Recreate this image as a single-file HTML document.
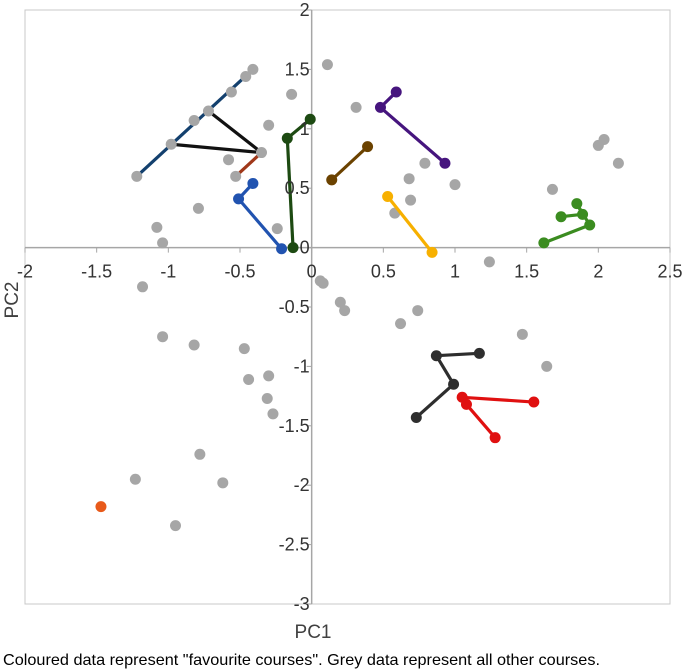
<!DOCTYPE html>
<html><head><meta charset="utf-8"><style>
body{margin:0;background:#fff;font-family:"Liberation Sans",sans-serif}
svg{display:block}
</style></head><body>
<svg id="chart" width="684" height="671" font-family="Liberation Sans, sans-serif">
<rect x="25" y="10" width="645" height="594" fill="none" stroke="#c8c8c8" stroke-width="1"/>
<g id="axes"></g>
<g id="lines"></g>
<g id="greys"></g>
<g id="pts"></g>
<g id="labels"></g>
<text x="313" y="638" font-size="19" text-anchor="middle" fill="#404040">PC1</text>
<text transform="translate(18,300) rotate(-90)" font-size="19" text-anchor="middle" fill="#404040">PC2</text>
<text x="3" y="665" font-size="15.8" fill="#000" textLength="597" lengthAdjust="spacingAndGlyphs">Coloured data represent "favourite courses". Grey data represent all other courses.</text>
</svg>
<script>
const xTicks=[-2,-1.5,-1,-0.5,0,0.5,1,1.5,2,2.5];
const yTicks=[2,1.5,1,0.5,0,-0.5,-1,-1.5,-2,-2.5,-3];
const greyX=[-0.41,-0.46,-0.56,-0.72,-0.82,-0.98,-1.22,-0.35,-0.53,-0.58,-0.30,-0.14,-0.79,-1.08,-1.04,-0.24,0.11,0.31,0.79,0.68,0.69,0.58,1.00,1.68,2.00,2.04,2.14,1.24,-1.18,-1.04,-0.82,-0.47,-0.44,-0.30,-0.31,-0.27,-0.78,-1.23,-0.62,-0.95,0.06,0.08,0.20,0.23,0.74,0.62,1.47,1.64];
const greyY=[1.50,1.44,1.31,1.15,1.07,0.87,0.60,0.80,0.60,0.74,1.03,1.29,0.33,0.17,0.04,0.16,1.54,1.18,0.71,0.58,0.40,0.29,0.53,0.49,0.86,0.91,0.71,-0.12,-0.33,-0.75,-0.82,-0.85,-1.11,-1.08,-1.27,-1.40,-1.74,-1.95,-1.98,-2.34,-0.28,-0.30,-0.46,-0.53,-0.53,-0.64,-0.73,-1.00];
const navyX=[-1.22,-0.41], navyY=[0.60,1.50];
const black1X=[-0.72,-0.35,-0.98], black1Y=[1.15,0.80,0.87];
const rustX=[-0.53,-0.35], rustY=[0.60,0.80];
const blueX=[-0.41,-0.51,-0.21], blueY=[0.54,0.41,-0.01];
const dgreenX=[-0.01,-0.17,-0.13], dgreenY=[1.08,0.92,0.00];
const purpleX=[0.59,0.48,0.93], purpleY=[1.31,1.18,0.71];
const brownX=[0.14,0.39], brownY=[0.57,0.85];
const yellowX=[0.53,0.84], yellowY=[0.43,-0.04];
const greenX=[1.62,1.94,1.85,1.89,1.74], greenY=[0.04,0.19,0.37,0.28,0.26];
const black2X=[1.17,0.87,0.99,0.73], black2Y=[-0.89,-0.91,-1.15,-1.43];
const redX=[1.55,1.05,1.08,1.28], redY=[-1.30,-1.26,-1.32,-1.60];
const orangeX=[-1.47], orangeY=[-2.18];

const X0=25,X1=670,Y0=10,Y1=604;
const sx=v=>X0+(v+2)/4.5*(X1-X0);
const sy=v=>Y0+(2-v)/5*(Y1-Y0);
const NS="http://www.w3.org/2000/svg";
function mk(tag,parent,attrs){const e=document.createElementNS(NS,tag);for(const k in attrs)e.setAttribute(k,attrs[k]);document.getElementById(parent).appendChild(e);return e;}

let e=mk('line','axes',{x1:X0,x2:X1,y1:sy(0),y2:sy(0),stroke:'#a6a6a6','stroke-width':1.5});


e=mk('line','axes',{x1:sx(0),x2:sx(0),y1:Y0,y2:Y1,stroke:'#a6a6a6','stroke-width':1.5});


xTicks.forEach(t=>{
 const tk=mk('line','axes',{x1:sx(t),x2:sx(t),y1:sy(0),y2:sy(0)+5,stroke:'#a6a6a6'});
 
 
 const l=mk('text','labels',{x:sx(t),y:sy(0)+30,'font-size':18,'text-anchor':'middle',fill:'#333'});
 l.textContent=t;
 
 
});
yTicks.forEach(t=>{
 const tk=mk('line','axes',{x1:sx(0)-5,x2:sx(0),y1:sy(t),y2:sy(t),stroke:'#a6a6a6'});
 
 
 const l=mk('text','labels',{x:sx(0)-2,y:sy(t)+6,'font-size':18,'text-anchor':'end',fill:'#333'});
 l.textContent=t;
 
 
});
function series(xs,ys,color,name,markers){
 const p=mk('polyline',markers?'pts':'lines',{points:xs.map((x,i)=>sx(x)+','+sy(ys[i])).join(' '),fill:'none',stroke:color,'stroke-width':3.2,'stroke-linejoin':'round'});
 
 
 if(markers) xs.forEach((x,i)=>{
  const c=mk('circle','pts',{cx:sx(x),cy:sy(ys[i]),r:5.5,fill:color});
  
  
 });
}
series(navyX,navyY,'#13406e','navy-course',false);
series(black1X,black1Y,'#111','black-course-a',false);
series(rustX,rustY,'#a0381a','rust-course',false);
greyX.forEach((x,i)=>{
 const c=mk('circle','greys',{cx:sx(x),cy:sy(greyY[i]),r:5.5,fill:'#a6a6a6'});
 
 
});
series(blueX,blueY,'#2153b0','blue-course',true);
series(dgreenX,dgreenY,'#1d4a12','dark-green-course',true);
series(purpleX,purpleY,'#46157e','purple-course',true);
series(brownX,brownY,'#6b4200','brown-course',true);
series(yellowX,yellowY,'#f7b000','yellow-course',true);
series(greenX,greenY,'#3b8c20','green-course',true);
series(black2X,black2Y,'#2e2e2e','black-course-b',true);
series(redX,redY,'#e01010','red-course',true);
series(orangeX,orangeY,'#e85a1a','orange-course',true);
</script>
</body></html>
